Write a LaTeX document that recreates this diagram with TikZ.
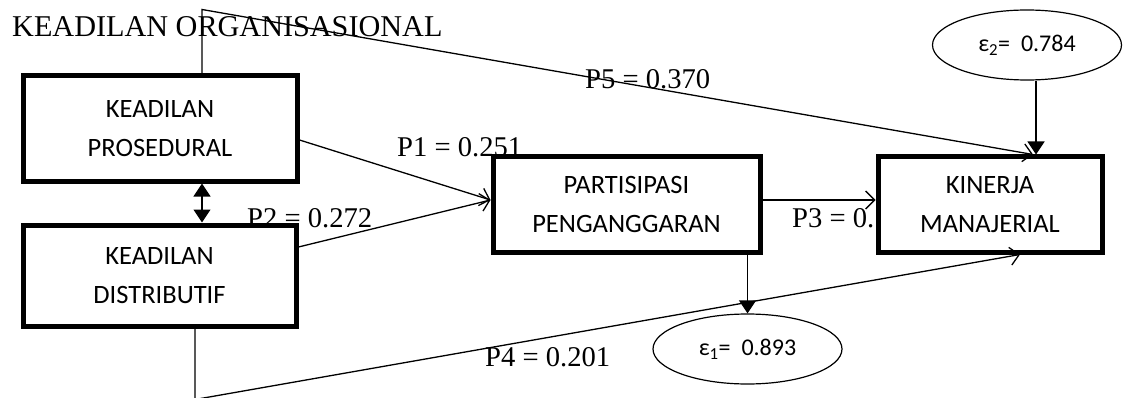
\documentclass[tikz,border=0pt]{standalone}
\usepackage{fontspec}
\setmainfont{Liberation Serif}
\newfontfamily\boxfont{Carlito}
\usetikzlibrary{arrows.meta,shapes.geometric,positioning}

\begin{document}
\begin{tikzpicture}[x=1pt,y=-1pt,
    var/.style={draw,line width=5pt,fill=white,align=center,
      font=\fontsize{26.5}{39}\boxfont,inner sep=0pt},
    err/.style={draw,ellipse,line width=1.2pt,minimum width=189pt,
      minimum height=70pt,inner sep=0pt,font=\fontsize{24}{26}\boxfont},
    coef/.style={anchor=base west,inner sep=0pt,
      font=\fontsize{28.6}{32}\selectfont},
    effect/.style={line width=1.3pt,-{Straight Barb[length=9pt,width=18pt]}},
    resid/.style={line width=1.3pt,-{Triangle[length=13pt,width=17pt]}}]
  \useasboundingbox (0,0) rectangle (1123,398);
  % labels
  \node[coef,font=\fontsize{30.2}{34}\selectfont] (title) at (12,37) {KEADILAN ORGANISASIONAL};
  \node[coef] (p1) at (397,157) {P1 = 0.251};
  \node[coef] (p2) at (247,227) {P2 = 0.272};
  \node[coef] (p3) at (792,227) {P3 = 0.};
  \node[coef] (p4) at (485,366) {P4 = 0.201};
  \node[coef] (p5) at (585,89) {P5 = 0.370};
  % variables
  \node[var,minimum width=274pt,minimum height=105pt] (prosedural) at (160,128.5) {KEADILAN\\PROSEDURAL};
  \node[var,minimum width=273pt,minimum height=101pt] (distributif) at (159.5,275.5) {KEADILAN\\DISTRIBUTIF};
  \node[var,minimum width=267pt,minimum height=95pt] (partisipasi) at (626.5,204.5) {PARTISIPASI\\PENGANGGARAN};
  \node[var,minimum width=224pt,minimum height=95pt] (kinerja) at (990,204.5) {KINERJA\\MANAJERIAL};
  \node[err] (eps1) at (747.5,349) {ε\textsubscript{1}=\ \ 0.893};
  \node[err] (eps2) at (1027,45) {ε\textsubscript{2}=\ \ 0.784};
  % paths
  \draw[effect] ([yshift=-11.5pt]prosedural.east) -- ([yshift=4.5pt]partisipasi.west);
  \draw[effect] ([yshift=28.5pt]distributif.east) -- ([yshift=4.5pt]partisipasi.west);
  \draw[effect] ([yshift=4.5pt]partisipasi.east) -- ([yshift=4.5pt]kinerja.west);
  \draw[effect] ([xshift=35.5pt]distributif.south) -- ++(0,71) -- ([xshift=30pt]kinerja.south);
  \draw[effect] ([xshift=42pt]prosedural.north) -- ++(0,-64) -- ([xshift=43pt]kinerja.north);
  \draw[line width=1.3pt,{Triangle[length=13pt,width=17pt]}-{Triangle[length=13pt,width=17pt]}]
    ([xshift=42pt]prosedural.south) -- ([xshift=42.5pt]distributif.north);
  \draw[resid] (eps1.north |- partisipasi.south) -- (eps1.north);
  \draw[resid] ([xshift=9pt]eps2.south) -- ([xshift=46pt]kinerja.north);
\end{tikzpicture}
\end{document}
